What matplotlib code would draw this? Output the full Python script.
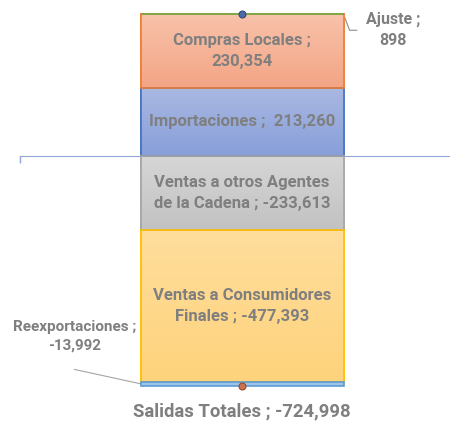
import numpy as np
import matplotlib.pyplot as plt
from matplotlib.colors import LinearSegmentedColormap

# data
pos_names = ['Importaciones', 'Compras Locales', 'Ajuste']
pos_values = [213260, 230354, 898]
neg_names = ['Ventas a otros Agentes\nde la Cadena', 'Ventas a Consumidores\nFinales', 'Reexportaciones']
neg_values = [-233613, -477393, -13992]
total_in = sum(pos_values)
total_out = sum(neg_values)

# styles: (top colour, bottom colour, edge colour)
pos_styles = [('#aab8e2', '#879fd9', '#4472c4'),
              ('#f8c2aa', '#f3a585', '#ed7d31'),
              ('#70ad47', '#70ad47', '#70ad47')]
neg_styles = [('#d6d6d6', '#c2c2c2', '#a5a5a5'),
              ('#fedd9c', '#ffd37c', '#ffc000'),
              ('#9dc3e6', '#9dc3e6', '#5b9bd5')]

TXT = '#7f7f7f'
plt.rcParams['font.family'] = ['Roboto', 'DejaVu Sans']

fig = plt.figure(figsize=(4.5, 4.23), dpi=100)
ax = fig.add_axes([20/450, 0.0612, 430/450, 0.9319])
ax.set_xlim(-1.0936, 1.0246)
ax.set_ylim(-760000, 480000)

width = 1.0


def grad_bar(bottom, value, style):
    top_c, bot_c, edge = style
    if top_c == bot_c:
        # thin solid segments sit on top of neighbours' edges
        return ax.bar(0, value, width, bottom=bottom, color=bot_c, edgecolor=edge, linewidth=1.2, zorder=2.4)[0]
    bar = ax.bar(0, value, width, bottom=bottom, color=bot_c, edgecolor=edge, linewidth=1.2, zorder=2)[0]
    cmap = LinearSegmentedColormap.from_list('g', [bot_c, top_c])
    lo, hi = sorted([bottom, bottom + value])
    im = ax.imshow(np.linspace(0, 1, 64).reshape(-1, 1), cmap=cmap, aspect='auto',
                   extent=[-width/2, width/2, lo, hi], origin='lower', zorder=2.1)
    im.set_clip_path(bar)
    # redraw edge on top
    ax.bar(0, value, width, bottom=bottom, color='none', edgecolor=edge, linewidth=1.2, zorder=2.2)
    return bar


b = 0
for v, st in zip(pos_values, pos_styles):
    grad_bar(b, v, st)
    b += v
b = 0
for v, st in zip(neg_values, neg_styles):
    grad_bar(b, v, st)
    b += v

# totals as points
ax.plot(0, total_in, 'o', ms=5, mfc='#4e6aa6', mec='#2f4b7c', mew=0.8, zorder=5)
ax.plot(0, total_out, 'o', ms=5, mfc='#c8734f', mec='#9c4a2a', mew=0.8, zorder=5)

fs = 12
ls = 1.5
ax.text(0, pos_values[0] + pos_values[1] / 2, 'Compras Locales ;\n230,354', ha='center', va='center',
        color=TXT, fontsize=fs, fontweight='bold', linespacing=ls, zorder=6)
ax.text(0, pos_values[0] / 2, 'Importaciones ;  213,260', ha='center', va='center',
        color=TXT, fontsize=fs, fontweight='bold', zorder=6)
ax.text(0, neg_values[0] / 2, 'Ventas a otros Agentes\nde la Cadena ; -233,613', ha='center', va='center',
        color=TXT, fontsize=fs, fontweight='bold', linespacing=ls, zorder=6)
ax.text(0, neg_values[0] + neg_values[1] / 2, 'Ventas a Consumidores\nFinales ; -477,393', ha='center', va='center',
        color=TXT, fontsize=fs, fontweight='bold', linespacing=ls, zorder=6)

# outside labels with leader lines
ax.text(0.745, 394000, 'Ajuste ;\n898', ha='center', va='center', color=TXT,
        fontsize=11.5, fontweight='bold', linespacing=1.5)
ax.plot([width/2, 0.53, 0.565], [total_in, 394000, 394000], color='#8c8c8c', lw=0.8)
ax.text(-0.825, -568000, 'Reexportaciones ;\n-13,992', ha='center', va='center', color=TXT,
        fontsize=11, fontweight='bold', linespacing=1.4)
ax.plot([-0.825, -width/2], [-673000, -718000], color='#a6a6a6', lw=0.8)

ax.text(0, -804000, 'Salidas Totales ; -724,998', ha='center', va='center', color=TXT,
        fontsize=13.3, fontweight='bold', clip_on=False)

# category axis at zero
for s in ['top', 'right', 'left']:
    ax.spines[s].set_visible(False)
ax.spines['bottom'].set_position(('data', 0))
ax.spines['bottom'].set_color('#8ea5d8')
ax.spines['bottom'].set_zorder(1)
ax.set_xticks([-1.0936])
ax.set_xticklabels([''])
ax.tick_params(axis='x', length=5, color='#8ea5d8', width=1)
ax.set_yticks([])

fig.savefig('out.png', dpi=100)
